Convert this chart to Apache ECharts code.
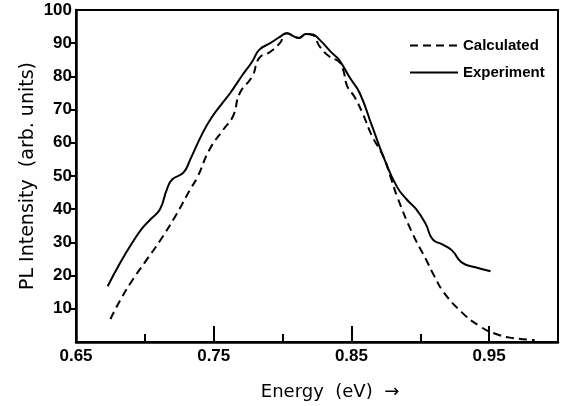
<!DOCTYPE html>
<html>
<head>
<meta charset="utf-8">
<script src="https://cdn.jsdelivr.net/npm/echarts@6/dist/echarts.min.js"></script>
<style>
  html, body { margin: 0; padding: 0; background: #fff; }
</style>
</head>
<body>
<div id="main" style="width:563px;height:406px"></div>
<script>
// PL spectra, energy in eV, intensity in arb. units
var expEnergy = [0.673, 0.682, 0.691, 0.698, 0.704, 0.711, 0.716, 0.720, 0.728, 0.733,
  0.742, 0.749, 0.756, 0.762, 0.771, 0.778, 0.783, 0.791, 0.798, 0.803,
  0.809, 0.812, 0.817, 0.822, 0.827, 0.836, 0.841, 0.849, 0.856, 0.865,
  0.874, 0.883, 0.890, 0.897, 0.904, 0.909, 0.916, 0.923, 0.930, 0.940, 0.951];
var expIntensity = [16.8, 23.8, 30, 34.2, 36.9, 40, 46, 49, 51, 55,
  63, 67.9, 71.8, 75, 80.5, 84.5, 88, 90, 91.9, 93,
  91.9, 91.6, 92.8, 92.6, 91, 87, 85, 79.5, 75, 65,
  55, 46.8, 43, 40, 35.5, 30.9, 29.4, 27.6, 24, 22.5, 21.3];

var calcEnergy = [0.675, 0.682, 0.690, 0.700, 0.711, 0.723, 0.733, 0.738, 0.747, 0.757,
  0.764, 0.769, 0.778, 0.783, 0.791, 0.798, 0.803, 0.809, 0.812, 0.817,
  0.822, 0.827, 0.834, 0.841, 0.844, 0.847, 0.852, 0.858, 0.865, 0.873,
  0.879, 0.883, 0.894, 0.904, 0.910, 0.917, 0.930, 0.943, 0.955, 0.967, 0.983];
var calcIntensity = [6.9, 12.5, 18, 24, 30.5, 38.5, 46, 49.5, 58, 64,
  68, 75, 80, 85.5, 87.4, 90, 93, 91.9, 91.6, 92.8,
  92.4, 89, 86, 84.4, 82, 77, 74, 69, 62, 56,
  49, 44, 33, 25, 20, 15, 9, 4.8, 2.4, 1.2, 0.6];

var xLabelValues = [0.65, 0.75, 0.85, 0.95];
var xMinorValues = [0.70, 0.80, 0.90];
var yLabelValues = [10, 20, 30, 40, 50, 60, 70, 80, 90, 100];

function pairs(xs, ys) {
  var out = [];
  for (var i = 0; i < xs.length; i++) out.push([xs[i], ys[i]]);
  return out;
}

var chart = echarts.init(document.getElementById('main'));
var labelFont = { color: '#000', fontFamily: 'Liberation Sans', fontWeight: 'bold', fontSize: 17 };

var option = {
  animation: false,
  backgroundColor: '#fff',
  grid: {
    left: 76, right: 5, top: 10, bottom: 63,
    show: true, borderColor: '#000', borderWidth: 2
  },
  legend: {
    orient: 'vertical',
    left: 404, top: 33,
    itemWidth: 48, itemHeight: 14, itemGap: 12,
    itemStyle: { opacity: 0 },
    textStyle: { color: '#000', fontFamily: 'Liberation Sans', fontWeight: 'bold', fontSize: 15 },
    data: ['Calculated', 'Experiment']
  },
  xAxis: [{
    type: 'value',
    min: 0.65, max: 1.0,
    name: 'Energy  (eV)  →',
    nameLocation: 'middle',
    nameGap: 41,
    nameMoveOverlap: false,
    nameTextStyle: { color: '#000', fontFamily: 'DejaVu Sans', fontSize: 18, padding: [0, 0, 0, 26] },
    axisLine: { lineStyle: { color: '#000', width: 2.5 } },
    axisTick: { inside: true, length: 16, customValues: [0.75, 0.85, 0.95], lineStyle: { color: '#000', width: 2 } },
    axisLabel: Object.assign({ margin: 6, customValues: xLabelValues, formatter: function (v) { return v.toFixed(2); } }, labelFont),
    splitLine: { show: false }
  }, {
    type: 'value',
    position: 'bottom',
    min: 0.65, max: 1.0,
    axisLine: { show: false },
    axisTick: { inside: true, length: 8, customValues: xMinorValues, lineStyle: { color: '#000', width: 2 } },
    axisLabel: { show: false },
    splitLine: { show: false }
  }],
  yAxis: {
    type: 'value',
    min: 0, max: 100, interval: 10,
    name: 'PL Intensity  (arb. units)',
    nameLocation: 'middle',
    nameGap: 38,
    nameMoveOverlap: false,
    nameTextStyle: { color: '#000', fontFamily: 'DejaVu Sans', fontSize: 19 },
    axisLine: { lineStyle: { color: '#000', width: 2.5 } },
    axisTick: { length: 7, customValues: [10, 20, 30, 40, 50, 60, 70, 80, 90], lineStyle: { color: '#000', width: 2 } },
    axisLabel: Object.assign({ margin: 4, customValues: yLabelValues }, labelFont),
    splitLine: { show: false }
  },
  series: [{
    name: 'Calculated',
    type: 'line',
    data: pairs(calcEnergy, calcIntensity),
    smooth: 0.5,
    symbol: 'none',
    lineStyle: { color: '#000', width: 2, type: [8, 5] },
    itemStyle: { color: '#000' }
  }, {
    name: 'Experiment',
    type: 'line',
    data: pairs(expEnergy, expIntensity),
    smooth: 0.5,
    symbol: 'none',
    lineStyle: { color: '#000', width: 2 },
    itemStyle: { color: '#000' }
  }]
};
chart.setOption(option);
</script>
</body>
</html>
